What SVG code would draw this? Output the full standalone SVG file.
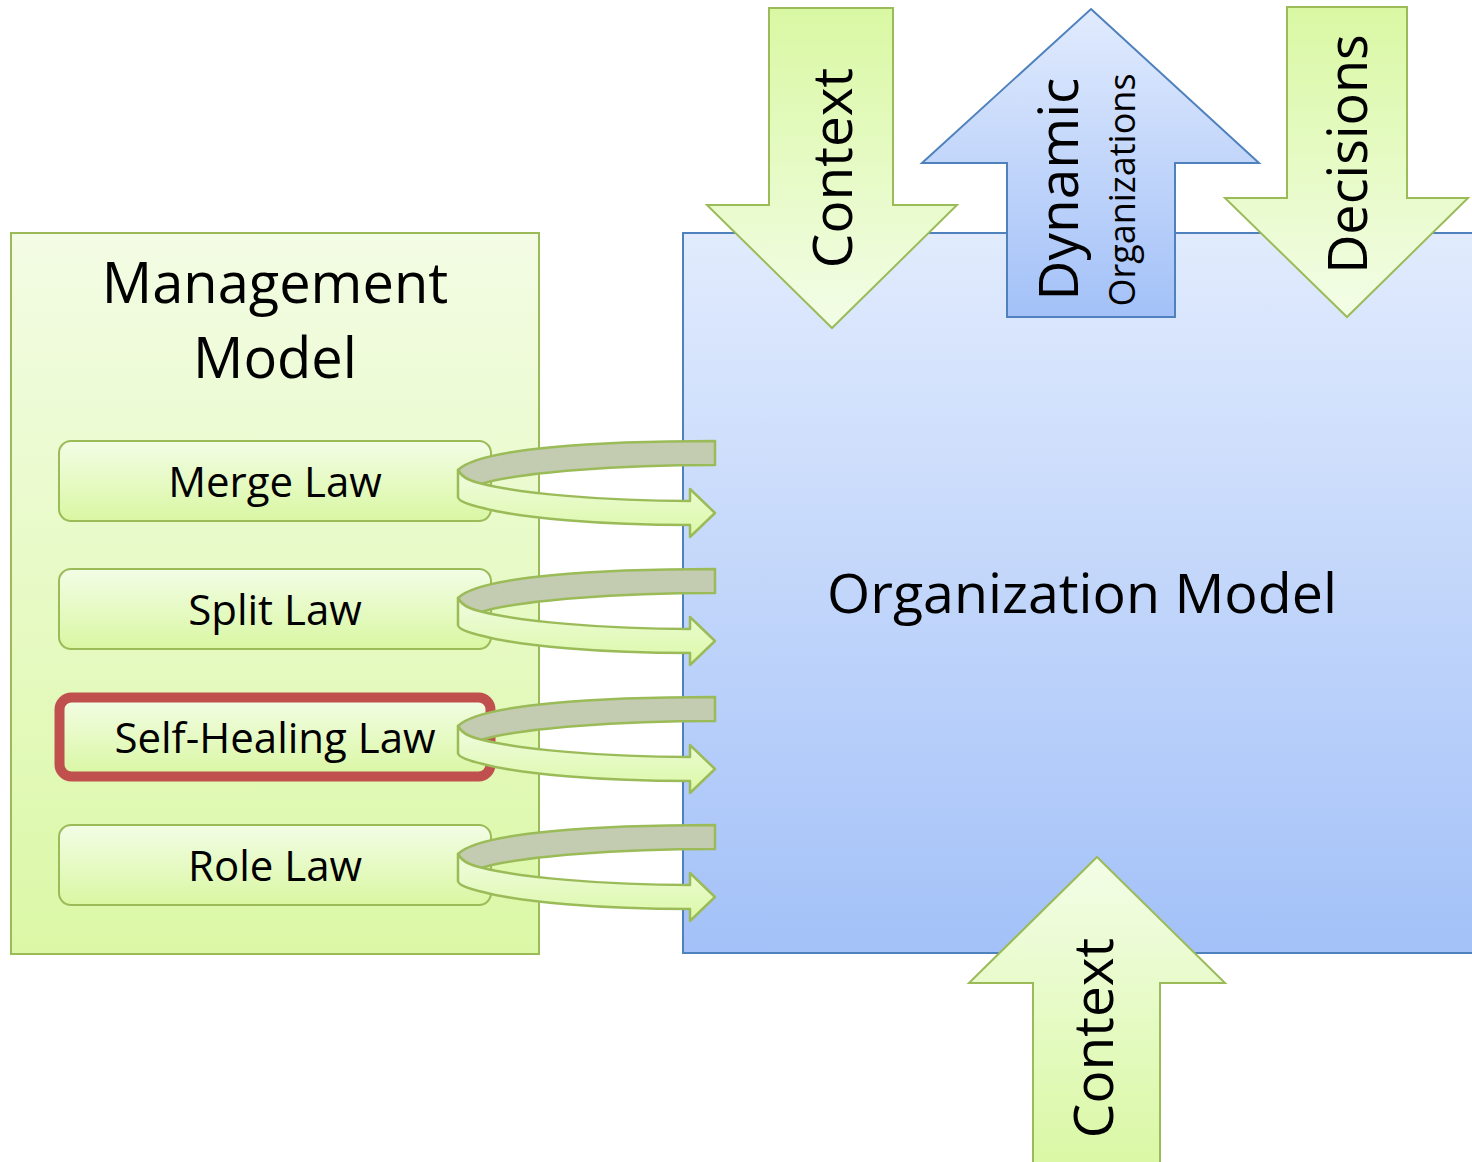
<svg xmlns="http://www.w3.org/2000/svg" width="1472" height="1162" viewBox="0 0 1472 1162">
<defs>
<linearGradient id="gMgmt" x1="0" y1="0" x2="0" y2="1"><stop offset="0" stop-color="#f3fce4"/><stop offset="1" stop-color="#dbf8a6"/></linearGradient>
<linearGradient id="gLaw" x1="0" y1="0" x2="0" y2="1"><stop offset="0" stop-color="#f3fde6"/><stop offset="1" stop-color="#d9f7a2"/></linearGradient>
<linearGradient id="gOrg" x1="0" y1="0" x2="0" y2="1"><stop offset="0" stop-color="#e1ebfd"/><stop offset="1" stop-color="#a3c1f8"/></linearGradient>
<linearGradient id="gDown" x1="0" y1="0" x2="0" y2="1"><stop offset="0" stop-color="#d9f8a3"/><stop offset="1" stop-color="#f3fde7"/></linearGradient>
<linearGradient id="gUp" x1="0" y1="0" x2="0" y2="1"><stop offset="0" stop-color="#f3fde7"/><stop offset="1" stop-color="#d9f8a3"/></linearGradient>
<linearGradient id="gBlueUp" x1="0" y1="0" x2="0" y2="1"><stop offset="0" stop-color="#e1ebfd"/><stop offset="1" stop-color="#a3c1f8"/></linearGradient>
<linearGradient id="gBand" x1="0" y1="0" x2="0" y2="1"><stop offset="0" stop-color="#f0fce0"/><stop offset="1" stop-color="#dbf8a6"/></linearGradient>
<g id="loop">
<path class="back" d="M715,441 L715,465 C620,465 520,472 481,484 C470,481 462,477 458,470 C480,448 600,441 715,441 Z"/>
<path class="front" d="M458,470 C462,478 470,481 483,484 C520,493 600,501 690,501 L690,489 L715,513 L690,537 L690,525 C600,525 520,518 483,508 C470,505 458,501 458,497 Z"/>
</g>
</defs>
<style>
text{font-family:"Open Sans","Noto Sans","Liberation Sans",sans-serif;fill:#000;}
.green{stroke:#9bbb59;stroke-width:2;}
.blue{stroke:#4f81bd;stroke-width:2;}
.back{fill:#c3cbb0;stroke:#9bbb59;stroke-width:2.5;stroke-linejoin:round;}
.front{fill:url(#gBand);stroke:#9bbb59;stroke-width:2.5;stroke-linejoin:round;}
.law{fill:url(#gLaw);stroke:#9bbb59;stroke-width:2;}
</style>
<g id="organization-model">
<rect x="683" y="233" width="800" height="720" fill="url(#gOrg)" class="blue"/>
<text x="1082" y="613" font-size="55.5" text-anchor="middle">Organization Model</text>
</g>
<g id="management-model">
<rect x="11" y="233" width="528" height="721" fill="url(#gMgmt)" class="green"/>
<text x="275" y="303" font-size="56" text-anchor="middle">Management</text>
<text x="275" y="378" font-size="56" text-anchor="middle">Model</text>
</g>
<g id="merge-law">
<rect x="59" y="441" width="432" height="80" rx="12" class="law"/>
<text x="275" y="497" font-size="42" text-anchor="middle">Merge Law</text>
</g>
<g id="split-law">
<rect x="59" y="569" width="432" height="80" rx="12" class="law"/>
<text x="275" y="625" font-size="42" text-anchor="middle">Split Law</text>
</g>
<g id="self-healing-law">
<rect x="59.5" y="697.5" width="431" height="79" rx="12" fill="url(#gLaw)" stroke="#c0504d" stroke-width="10"/>
<text x="275" y="753" font-size="42" text-anchor="middle">Self-Healing Law</text>
</g>
<g id="role-law">
<rect x="59" y="825" width="432" height="80" rx="12" class="law"/>
<text x="275" y="881" font-size="42" text-anchor="middle">Role Law</text>
</g>
<g id="connectors">
<use href="#loop"/>
<use href="#loop" transform="translate(0,128)"/>
<use href="#loop" transform="translate(0,256)"/>
<use href="#loop" transform="translate(0,384)"/>
</g>
<g id="context-top">
<path d="M769,8 L893,8 L893,205 L957,205 L832,328 L707,205 L769,205 Z" fill="url(#gDown)" class="green"/>
<text transform="translate(852,168) rotate(-90)" font-size="55" text-anchor="middle">Context</text>
</g>
<g id="dynamic-organizations">
<path d="M1091,9 L1259,163 L1175,163 L1175,317 L1007,317 L1007,163 L922,163 Z" fill="url(#gBlueUp)" class="blue"/>
<text transform="translate(1078,189) rotate(-90)" font-size="55" text-anchor="middle">Dynamic</text>
<text transform="translate(1135,190) rotate(-90)" font-size="36" text-anchor="middle">Organizations</text>
</g>
<g id="decisions">
<path d="M1287,7 L1407,7 L1407,198 L1468,198 L1347,317 L1225,198 L1287,198 Z" fill="url(#gDown)" class="green"/>
<text transform="translate(1367,154) rotate(-90)" font-size="54" text-anchor="middle">Decisions</text>
</g>
<g id="context-bottom">
<path d="M1097,857 L1225,983 L1160,983 L1160,1170 L1033,1170 L1033,983 L969,983 Z" fill="url(#gUp)" class="green"/>
<text transform="translate(1113,1038) rotate(-90)" font-size="55" text-anchor="middle">Context</text>
</g>
</svg>
